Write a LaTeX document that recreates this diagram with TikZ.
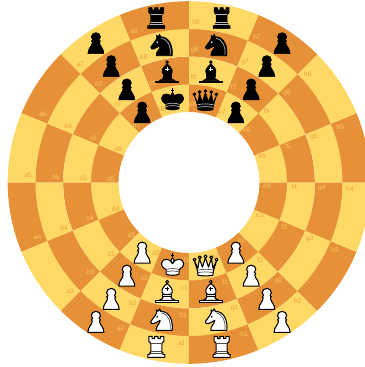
\documentclass[tikz,border=0pt]{standalone}
\usepackage{fontspec}
\setsansfont{Liberation Sans}
\usetikzlibrary{calc}
\definecolor{darkcell}{HTML}{E69138}
\definecolor{lightcell}{HTML}{FFD966}

\tikzset{
  pieceunit/.style={scale=0.02},
  pics/pawnpiece/.style={code={
    \tikzset{pieceunit}
    \draw[pbody] (0,10.5) .. controls (2.8,10.5) and (4.6,8.5) .. (4.6,6.2)
      .. controls (4.6,5) and (4,4) .. (3.2,3.4) .. controls (5,2.8) and (5,1) .. (3.6,0.8)
      .. controls (3.8,-3) and (8,-5) .. (8,-10.5) -- (-8,-10.5)
      .. controls (-8,-5) and (-3.8,-3) .. (-3.6,0.8) .. controls (-5,1) and (-5,2.8) .. (-3.2,3.4)
      .. controls (-4,4) and (-4.6,5) .. (-4.6,6.2) .. controls (-4.6,8.5) and (-2.8,10.5) .. (0,10.5) -- cycle;
  }},
  pics/rookpiece/.style={code={
    \tikzset{pieceunit}
    \draw[pbody] (-8.5,-10.5) -- (8.5,-10.5) -- (8.5,-7.5) -- (6.5,-7.5) -- (6.5,-5.5) -- (5.5,-5.5)
      -- (5.5,3.5) -- (7.5,5.5) -- (7.5,10.5) -- (4.2,10.5) -- (4.2,8.3) -- (1.7,8.3) -- (1.7,10.5) -- (-1.7,10.5)
      -- (-1.7,8.3) -- (-4.2,8.3) -- (-4.2,10.5) -- (-7.5,10.5) -- (-7.5,5.5) -- (-5.5,3.5) -- (-5.5,-5.5)
      -- (-6.5,-5.5) -- (-6.5,-7.5) -- (-8.5,-7.5) -- cycle;
    \draw[pdetail] (-5.5,3.5) -- (5.5,3.5) (-5.5,-4.5) -- (5.5,-4.5) (-6.5,-6.5) -- (6.5,-6.5);
  }},
  pics/knightpiece/.style={code={
    \tikzset{pieceunit}
    \draw[pbody] (-5.5,-10.5) -- (10.5,-10.5) .. controls (11.5,-2) and (8.5,8.5) .. (-1,8.5) -- (-2,11)
      -- (-3.5,8.6) -- (-5.2,10) -- (-5,6.8) .. controls (-7,3) and (-10,0) .. (-11,-2)
      .. controls (-11,-3.5) and (-9,-5) .. (-8,-3.8) .. controls (-6,-2.5) and (-4,-2.5) .. (-1.5,-0.5)
      .. controls (-1.5,-4) and (-6,-6) .. (-5.5,-10.5) -- cycle;
    \draw[pdetail] (8.5,-9.5) .. controls (9.5,-2) and (7,5.5) .. (-0.5,7);
    \fill[peye] (-4.5,3) circle (0.9);
  }},
  pics/bishoppiece/.style={code={
    \tikzset{pieceunit}
    \draw[pbody] (0,10.5) circle (1.5);
    \draw[pbody] (0,8.8) .. controls (-3,6.5) and (-6,3) .. (-5,0) -- (-3.5,-2) -- (3.5,-2)
      -- (5,0) .. controls (6,3) and (3,6.5) .. (0,8.8) -- cycle;
    \draw[pbody] (-4.2,-2) rectangle (4.2,-4);
    \draw[pbody] (-3.5,-4) .. controls (-3.5,-6) and (-6,-7) .. (-8,-8) -- (8,-8)
      .. controls (6,-7) and (3.5,-6) .. (3.5,-4) -- cycle;
    \draw[pbody] (-11.5,-8.5) rectangle (11.5,-10);
    \draw[pcross] (0,5.5) -- (0,1.5) (-2,3.5) -- (2,3.5);
  }},
  pics/kingpiece/.style={code={
    \tikzset{pieceunit}
    \draw[pbody, line width=0.8pt] (0,12) -- (0,6) (-1.8,9.5) -- (1.8,9.5);
    \draw[pbody] (0,1.5) .. controls (-2.5,4.5) and (-1.5,7) .. (0,7)
      .. controls (1.5,7) and (2.5,4.5) .. (0,1.5) -- cycle;
    \draw[pbody] (0,1.5) .. controls (2,7) and (10.5,7.5) .. (11,2)
      .. controls (11.4,-1.5) and (8,-3.5) .. (6.5,-4.5) -- (6.5,-9)
      .. controls (3,-10.5) and (-3,-10.5) .. (-6.5,-9) -- (-6.5,-4.5)
      .. controls (-8,-3.5) and (-11.4,-1.5) .. (-11,2)
      .. controls (-10.5,7.5) and (-2,7) .. (0,1.5) -- cycle;
    \draw[pdetail] (-6.5,-4.5) .. controls (-3,-3) and (3,-3) .. (6.5,-4.5)
      (-6.5,-6.8) .. controls (-3,-5.5) and (3,-5.5) .. (6.5,-6.8);
  }},
  pics/queenpiece/.style={code={
    \tikzset{pieceunit}
    \foreach \x/\y in {-11/5.5,-5.8/7.8,0/8.8,5.8/7.8,11/5.5}
      \draw[pbody] (\x,\y) circle (1.5);
    \draw[pbody] (-11,4) -- (-7.5,-3) -- (-6,6.5) -- (-3,-2) -- (0,7.5) -- (3,-2) -- (6,6.5)
      -- (7.5,-3) -- (11,4) -- (8,-5.5) -- (7.5,-10) .. controls (3,-11) and (-3,-11) .. (-7.5,-10)
      -- (-8,-5.5) -- cycle;
    \draw[pdetail] (-8,-5) .. controls (-3,-3.8) and (3,-3.8) .. (8,-5)
      (-7.7,-7.5) .. controls (-3,-6.5) and (3,-6.5) .. (7.7,-7.5);
  }}
}

\begin{document}
\begin{tikzpicture}[
    scale=0.02,
    tag/.style={font=\sffamily\fontsize{3.8}{4}\selectfont, inner sep=0pt},
    blackset/.style={
      pbody/.style={draw=black, fill=black, line width=0.35pt, line join=round},
      pdetail/.style={draw=gray!55, line width=0.4pt},
      pcross/.style={draw=white, line width=0.4pt},
      peye/.style={fill=white}},
    whiteset/.style={
      pbody/.style={draw=black, fill=white, line width=0.6pt, line join=round},
      pdetail/.style={draw=black!70, line width=0.4pt},
      pcross/.style={draw=black, line width=0.4pt},
      peye/.style={fill=black}}
  ]
  \useasboundingbox (-189,-184.5) rectangle (176,182.5);
  \clip (-189,-184.5) rectangle (176,182.5);

  % board
  \foreach \s in {0,...,15}
    \foreach \r [count=\k from 0] in {70.5,98,126,153.5} {
      \pgfmathsetmacro{\rr}{\r+27.8}
      \pgfmathsetmacro{\aa}{\s*22.5}
      \pgfmathsetmacro{\bb}{\aa+22.5}
      \pgfmathtruncatemacro{\odd}{mod(\s+\k,2)}
      \ifnum\odd=0 \def\cellcol{lightcell}\else\def\cellcol{darkcell}\fi
      \fill[\cellcol] (\aa:\r) arc[start angle=\aa, end angle=\bb, radius=\r]
        -- (\bb:\rr) arc[start angle=\bb, end angle=\aa, radius=\rr] -- cycle;
    }

  % square names
  \foreach \rank/\a in {8/110,7/132.5,6/155,5/177.5,4/200,3/222.5,2/245,1/267.5}
    \foreach \file/\r/\c in {a/161/0,b/133/1,c/105.5/0,d/78/1} {
      \pgfmathtruncatemacro{\odd}{mod(\rank+\c,2)}
      \ifnum\odd=0 \def\tagcol{lightcell!80!darkcell}\else\def\tagcol{darkcell!80!lightcell}\fi
      \node[tag, text=\tagcol] (\file\rank) at (\a:\r) {\file\rank};
    }
  \foreach \rank/\a in {8/87.5,7/65,6/42.5,5/20,4/357.5,3/335,2/312.5,1/290}
    \foreach \file/\r/\c in {h/161/1,g/133/0,f/105.5/1,e/78/0} {
      \pgfmathtruncatemacro{\odd}{mod(\rank+\c,2)}
      \ifnum\odd=0 \def\tagcol{lightcell!80!darkcell}\else\def\tagcol{darkcell!80!lightcell}\fi
      \node[tag, text=\tagcol] (\file\rank) at (\a:\r) {\file\rank};
    }

  % black pieces
  \begin{scope}[blackset]
    \pic (ra8) at (101.25:167.6) {rookpiece};
    \pic (nb8) at (101.25:140) {knightpiece};
    \pic (bc8) at (101.25:112) {bishoppiece};
    \pic (kd8) at (101.25:84.3) {kingpiece};
    \pic (qe8) at (78.75:84.3) {queenpiece};
    \pic (bf8) at (78.75:112) {bishoppiece};
    \pic (ng8) at (78.75:140) {knightpiece};
    \pic (rh8) at (78.75:167.6) {rookpiece};
    \foreach \f/\a/\r in {a/123.75/167.6,b/123.75/140,c/123.75/112,d/123.75/84.3,
                          e/56.25/84.3,f/56.25/112,g/56.25/140,h/56.25/167.6}
      \pic (p\f7) at (\a:\r) {pawnpiece};
  \end{scope}

  % white pieces
  \begin{scope}[whiteset]
    \pic (ra1) at (258.75:167.6) {rookpiece};
    \pic (nb1) at (258.75:140) {knightpiece};
    \pic (bc1) at (258.75:112) {bishoppiece};
    \pic (kd1) at (258.75:84.3) {kingpiece};
    \pic (qe1) at (281.25:84.3) {queenpiece};
    \pic (bf1) at (281.25:112) {bishoppiece};
    \pic (ng1) at (281.25:140) {knightpiece};
    \pic (rh1) at (281.25:167.6) {rookpiece};
    \foreach \f/\a/\r in {a/236.25/167.6,b/236.25/140,c/236.25/112,d/236.25/84.3,
                          e/303.75/84.3,f/303.75/112,g/303.75/140,h/303.75/167.6}
      \pic (p\f2) at (\a:\r) {pawnpiece};
  \end{scope}
\end{tikzpicture}
\end{document}
